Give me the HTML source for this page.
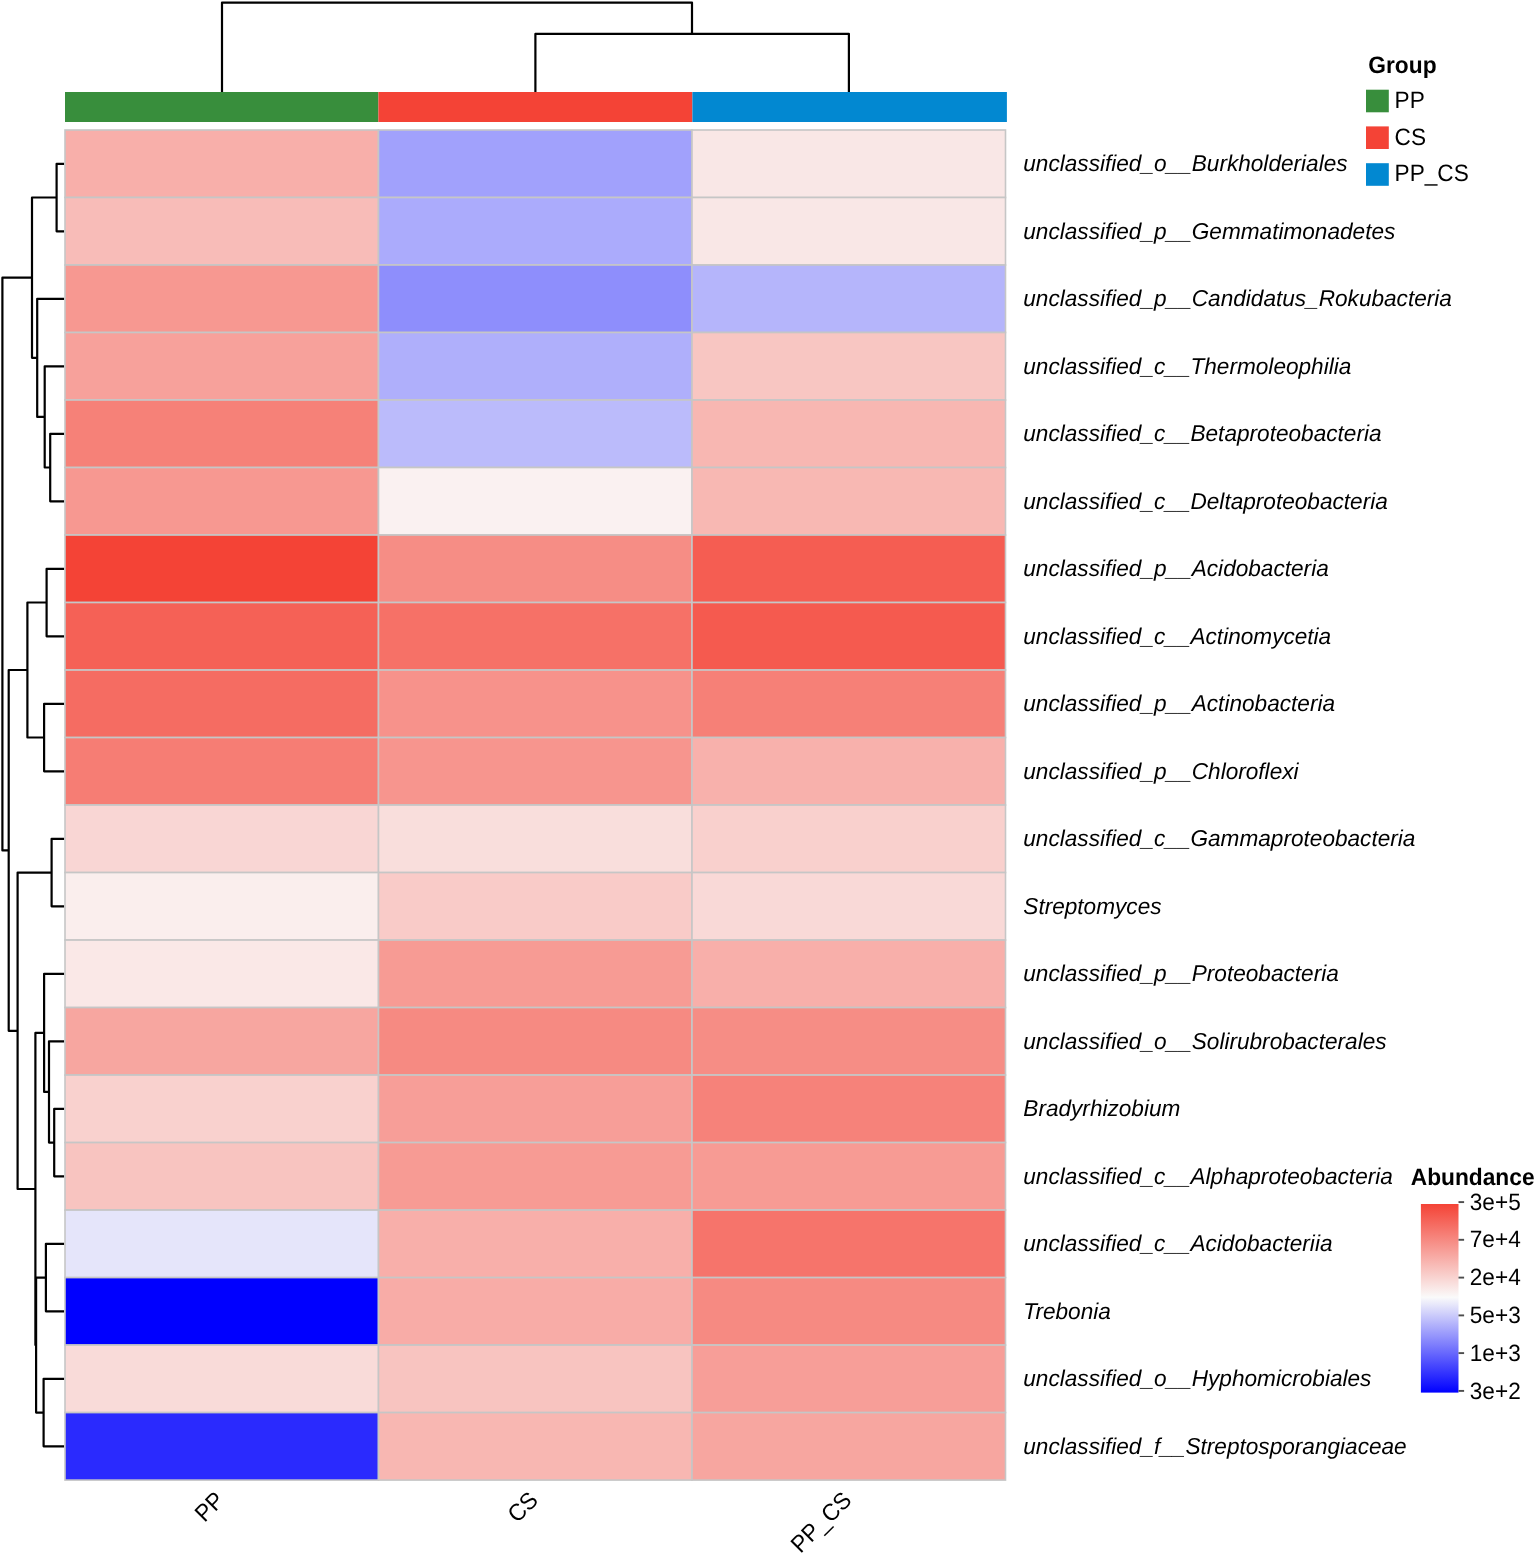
<!DOCTYPE html>
<html lang="en">
<head>
<meta charset="utf-8">
<title>Abundance heatmap</title>
<style>
html,body{margin:0;padding:0;background:#fff;}
body{width:1535px;height:1554px;overflow:hidden;}
svg{display:block;}
text{font-family:"Liberation Sans",sans-serif;font-size:22.62px;fill:#000;text-rendering:geometricPrecision;}
.rl{font-style:italic;}
.b{font-weight:bold;font-size:22.75px;}
.d{fill:none;stroke:#000;stroke-width:2.2;stroke-linejoin:round;stroke-linecap:butt;}
.c{stroke:#c6c6c6;stroke-width:1.6;}
.t{stroke:#4d4d4d;stroke-width:1.9;}
</style>
</head>
<body>
<svg width="1535" height="1554" viewBox="0 0 1535 1554" role="img" aria-label="Clustered abundance heatmap">
<rect x="0" y="0" width="1535" height="1554" fill="#fff"/>
<g class="d">
<path d="M222,92.5 V2.6 H692 V33.9"/>
<path d="M535.4,92.5 V33.9 H848.9 V92.5"/>
</g>
<rect x="65.0" y="92.0" width="313.4" height="30.0" fill="#388e3c"/>
<rect x="378.4" y="92.0" width="314.0" height="30.0" fill="#f44336"/>
<rect x="692.4" y="92.0" width="314.5" height="30.0" fill="#0288d1"/>
<g class="d">
<path d="M64.2,163.8 H56.6 V231.3 H64.2"/>
<path d="M64.2,433.8 H50.2 V501.3 H64.2"/>
<path d="M64.2,366.3 H44.7 V467.5 H50.2"/>
<path d="M64.2,298.8 H37.2 V416.9 H44.7"/>
<path d="M56.6,197.5 H32.0 V357.8 H37.2"/>
<path d="M64.2,568.8 H46.6 V636.3 H64.2"/>
<path d="M64.2,703.8 H44.1 V771.3 H64.2"/>
<path d="M46.6,602.5 H27.4 V737.5 H44.1"/>
<path d="M64.2,838.8 H51.6 V906.3 H64.2"/>
<path d="M64.2,1108.8 H54.2 V1176.3 H64.2"/>
<path d="M64.2,1041.3 H49.0 V1142.6 H54.2"/>
<path d="M64.2,973.8 H44.1 V1091.9 H49.0"/>
<path d="M64.2,1243.8 H45.9 V1311.3 H64.2"/>
<path d="M64.2,1378.8 H43.6 V1446.3 H64.2"/>
<path d="M45.9,1277.6 H36.1 V1412.6 H43.6"/>
<path d="M44.1,1032.9 H35.4 V1345.1 H36.1"/>
<path d="M51.6,872.6 H17.6 V1189.0 H35.4"/>
<path d="M27.4,670.0 H8.7 V1030.8 H17.6"/>
<path d="M32.0,277.7 H2.4 V850.4 H8.7"/>
</g>
<g class="c">
<rect x="65.00" y="130.00" width="313.50" height="67.50" fill="#f8afaa"/>
<rect x="378.50" y="130.00" width="313.50" height="67.50" fill="#a1a1fc"/>
<rect x="692.00" y="130.00" width="313.50" height="67.50" fill="#f9e7e6"/>
<rect x="65.00" y="197.50" width="313.50" height="67.50" fill="#f8bcb8"/>
<rect x="378.50" y="197.50" width="313.50" height="67.50" fill="#ababfc"/>
<rect x="692.00" y="197.50" width="313.50" height="67.50" fill="#f9e7e6"/>
<rect x="65.00" y="265.01" width="313.50" height="67.50" fill="#f79891"/>
<rect x="378.50" y="265.01" width="313.50" height="67.50" fill="#8e8efc"/>
<rect x="692.00" y="265.01" width="313.50" height="67.50" fill="#b5b5fb"/>
<rect x="65.00" y="332.51" width="313.50" height="67.50" fill="#f7a19b"/>
<rect x="378.50" y="332.51" width="313.50" height="67.50" fill="#afaffb"/>
<rect x="692.00" y="332.51" width="313.50" height="67.50" fill="#f8c6c2"/>
<rect x="65.00" y="400.02" width="313.50" height="67.50" fill="#f68178"/>
<rect x="378.50" y="400.02" width="313.50" height="67.50" fill="#bbbbfb"/>
<rect x="692.00" y="400.02" width="313.50" height="67.50" fill="#f8b7b2"/>
<rect x="65.00" y="467.52" width="313.50" height="67.50" fill="#f79891"/>
<rect x="378.50" y="467.52" width="313.50" height="67.50" fill="#faf1f1"/>
<rect x="692.00" y="467.52" width="313.50" height="67.50" fill="#f8b8b3"/>
<rect x="65.00" y="535.03" width="313.50" height="67.50" fill="#f44336"/>
<rect x="378.50" y="535.03" width="313.50" height="67.50" fill="#f68d85"/>
<rect x="692.00" y="535.03" width="313.50" height="67.50" fill="#f55d52"/>
<rect x="65.00" y="602.53" width="313.50" height="67.50" fill="#f56156"/>
<rect x="378.50" y="602.53" width="313.50" height="67.50" fill="#f67167"/>
<rect x="692.00" y="602.53" width="313.50" height="67.50" fill="#f55a4f"/>
<rect x="65.00" y="670.04" width="313.50" height="67.50" fill="#f56c62"/>
<rect x="378.50" y="670.04" width="313.50" height="67.50" fill="#f7928b"/>
<rect x="692.00" y="670.04" width="313.50" height="67.50" fill="#f68077"/>
<rect x="65.00" y="737.54" width="313.50" height="67.50" fill="#f67d74"/>
<rect x="378.50" y="737.54" width="313.50" height="67.50" fill="#f7958e"/>
<rect x="692.00" y="737.54" width="313.50" height="67.50" fill="#f8b1ac"/>
<rect x="65.00" y="805.05" width="313.50" height="67.50" fill="#f9d6d4"/>
<rect x="378.50" y="805.05" width="313.50" height="67.50" fill="#f9dedc"/>
<rect x="692.00" y="805.05" width="313.50" height="67.50" fill="#f9d0cd"/>
<rect x="65.00" y="872.55" width="313.50" height="67.50" fill="#faeeed"/>
<rect x="378.50" y="872.55" width="313.50" height="67.50" fill="#f9cbc8"/>
<rect x="692.00" y="872.55" width="313.50" height="67.50" fill="#f9d9d7"/>
<rect x="65.00" y="940.06" width="313.50" height="67.50" fill="#fae8e7"/>
<rect x="378.50" y="940.06" width="313.50" height="67.50" fill="#f79b94"/>
<rect x="692.00" y="940.06" width="313.50" height="67.50" fill="#f8afaa"/>
<rect x="65.00" y="1007.56" width="313.50" height="67.50" fill="#f7a6a0"/>
<rect x="378.50" y="1007.56" width="313.50" height="67.50" fill="#f68a82"/>
<rect x="692.00" y="1007.56" width="313.50" height="67.50" fill="#f68d85"/>
<rect x="65.00" y="1075.07" width="313.50" height="67.50" fill="#f9d1ce"/>
<rect x="378.50" y="1075.07" width="313.50" height="67.50" fill="#f79e98"/>
<rect x="692.00" y="1075.07" width="313.50" height="67.50" fill="#f6827a"/>
<rect x="65.00" y="1142.57" width="313.50" height="67.50" fill="#f8c4c0"/>
<rect x="378.50" y="1142.57" width="313.50" height="67.50" fill="#f79b94"/>
<rect x="692.00" y="1142.57" width="313.50" height="67.50" fill="#f79b94"/>
<rect x="65.00" y="1210.08" width="313.50" height="67.50" fill="#e5e5fa"/>
<rect x="378.50" y="1210.08" width="313.50" height="67.50" fill="#f8afaa"/>
<rect x="692.00" y="1210.08" width="313.50" height="67.50" fill="#f6746b"/>
<rect x="65.00" y="1277.59" width="313.50" height="67.50" fill="#0000ff"/>
<rect x="378.50" y="1277.59" width="313.50" height="67.50" fill="#f8aca7"/>
<rect x="692.00" y="1277.59" width="313.50" height="67.50" fill="#f68a82"/>
<rect x="65.00" y="1345.09" width="313.50" height="67.50" fill="#f9dbd9"/>
<rect x="378.50" y="1345.09" width="313.50" height="67.50" fill="#f8c4c0"/>
<rect x="692.00" y="1345.09" width="313.50" height="67.50" fill="#f79e98"/>
<rect x="65.00" y="1412.59" width="313.50" height="67.50" fill="#2a2afe"/>
<rect x="378.50" y="1412.59" width="313.50" height="67.50" fill="#f8b7b2"/>
<rect x="692.00" y="1412.59" width="313.50" height="67.50" fill="#f7a6a0"/>
</g>
<g class="rl">
<text transform="translate(1023.3,171.2) scale(1,1.015)">unclassified_o__Burkholderiales</text>
<text transform="translate(1023.3,238.7) scale(1,1.015)">unclassified_p__Gemmatimonadetes</text>
<text transform="translate(1023.3,306.2) scale(1,1.015)">unclassified_p__Candidatus_Rokubacteria</text>
<text transform="translate(1023.3,373.7) scale(1,1.015)">unclassified_c__Thermoleophilia</text>
<text transform="translate(1023.3,441.2) scale(1,1.015)">unclassified_c__Betaproteobacteria</text>
<text transform="translate(1023.3,508.7) scale(1,1.015)">unclassified_c__Deltaproteobacteria</text>
<text transform="translate(1023.3,576.2) scale(1,1.015)">unclassified_p__Acidobacteria</text>
<text transform="translate(1023.3,643.7) scale(1,1.015)">unclassified_c__Actinomycetia</text>
<text transform="translate(1023.3,711.2) scale(1,1.015)">unclassified_p__Actinobacteria</text>
<text transform="translate(1023.3,778.7) scale(1,1.015)">unclassified_p__Chloroflexi</text>
<text transform="translate(1023.3,846.2) scale(1,1.015)">unclassified_c__Gammaproteobacteria</text>
<text transform="translate(1023.3,913.7) scale(1,1.015)">Streptomyces</text>
<text transform="translate(1023.3,981.2) scale(1,1.015)">unclassified_p__Proteobacteria</text>
<text transform="translate(1023.3,1048.7) scale(1,1.015)">unclassified_o__Solirubrobacterales</text>
<text transform="translate(1023.3,1116.2) scale(1,1.015)">Bradyrhizobium</text>
<text transform="translate(1023.3,1183.7) scale(1,1.015)">unclassified_c__Alphaproteobacteria</text>
<text transform="translate(1023.3,1251.2) scale(1,1.015)">unclassified_c__Acidobacteriia</text>
<text transform="translate(1023.3,1318.7) scale(1,1.015)">Trebonia</text>
<text transform="translate(1023.3,1386.2) scale(1,1.015)">unclassified_o__Hyphomicrobiales</text>
<text transform="translate(1023.3,1453.7) scale(1,1.015)">unclassified_f__Streptosporangiaceae</text>
</g>
<text text-anchor="end" transform="translate(214.3,1490.1) rotate(-45) scale(1,1.045)" x="0" y="15.50">PP</text>
<text text-anchor="end" transform="translate(527.9,1490.1) rotate(-45) scale(1,1.045)" x="0" y="15.50">CS</text>
<text text-anchor="end" transform="translate(841.4,1490.1) rotate(-45) scale(1,1.045)" x="0" y="15.50">PP_CS</text>
<text class="b" transform="translate(1368.3,72.7) scale(1,1.045)">Group</text>
<rect x="1366" y="89.7" width="22.8" height="22.6" fill="#388e3c"/>
<text transform="translate(1394.6,107.9) scale(1,1.045)">PP</text>
<rect x="1366" y="126.4" width="22.8" height="22.6" fill="#f44336"/>
<text transform="translate(1394.6,144.6) scale(1,1.045)">CS</text>
<rect x="1366" y="163.2" width="22.8" height="22.6" fill="#0288d1"/>
<text transform="translate(1394.6,181.4) scale(1,1.045)">PP_CS</text>
<defs><linearGradient id="cb" x1="0" y1="0" x2="0" y2="1">
<stop offset="0" stop-color="#f44336"/>
<stop offset="0.495" stop-color="#fafafa"/>
<stop offset="1" stop-color="#0000ff"/>
</linearGradient></defs>
<text class="b" transform="translate(1410.7,1185.35) scale(1,1.045)">Abundance</text>
<rect x="1420.9" y="1204" width="37.6" height="188.6" fill="url(#cb)"/>
<g class="t">
<line x1="1458.5" y1="1202.1" x2="1464.1" y2="1202.1"/>
<line x1="1458.5" y1="1239.8" x2="1464.1" y2="1239.8"/>
<line x1="1458.5" y1="1277.6" x2="1464.1" y2="1277.6"/>
<line x1="1458.5" y1="1315.4" x2="1464.1" y2="1315.4"/>
<line x1="1458.5" y1="1353.1" x2="1464.1" y2="1353.1"/>
<line x1="1458.5" y1="1390.9" x2="1464.1" y2="1390.9"/>
</g>
<text transform="translate(1469.8,1209.7) scale(1,1.045)">3e+5</text>
<text transform="translate(1469.8,1247.4) scale(1,1.045)">7e+4</text>
<text transform="translate(1469.8,1285.2) scale(1,1.045)">2e+4</text>
<text transform="translate(1469.8,1323.0) scale(1,1.045)">5e+3</text>
<text transform="translate(1469.8,1360.7) scale(1,1.045)">1e+3</text>
<text transform="translate(1469.8,1398.5) scale(1,1.045)">3e+2</text>
</svg>
</body>
</html>
